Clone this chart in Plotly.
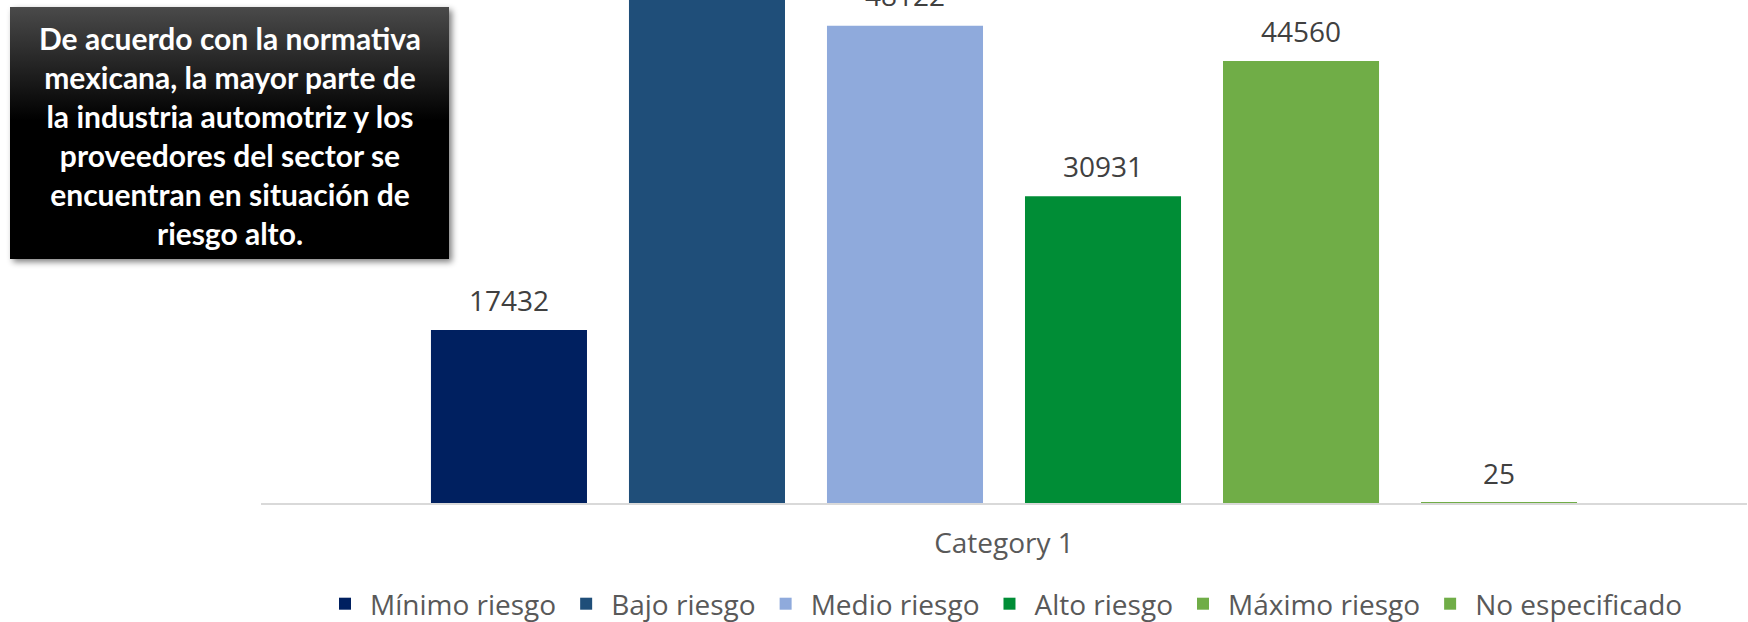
import base64
import plotly.graph_objects as go

# ---- data ----
categories = ["Category 1"]
series_names = ["Mínimo riesgo", "Bajo riesgo", "Medio riesgo", "Alto riesgo", "Máximo riesgo", "No especificado"]
series_values = [17432, 56000, 48122, 30931, 44560, 25]
series_colors = ["#002060", "#1F4E79", "#8FAADC", "#008D36", "#70AD47", "#70AD47"]
note_lines = [
    "De acuerdo con la normativa",
    "mexicana, la mayor parte de",
    "la industria automotriz y los",
    "proveedores del sector se",
    "encuentran en situación de",
    "riesgo alto.",
]

W, H = 1748, 622
ML, MR, MT, MB = 261, 1, 0, 119
plot_w = W - ML - MR
plot_h = H - MT - MB
y_max = 50706
BARGAP = 0.2005

FONT = "Open Sans"

fig = go.Figure()
for name, val, col in zip(series_names, series_values, series_colors):
    fig.add_trace(go.Bar(
        x=categories, y=[val], name=name,
        marker=dict(color=col, line=dict(width=0)),
        cliponaxis=False, hoverinfo="skip",
    ))

# data labels: text-only scatter, grouped like the bars
for name, val in zip(series_names, series_values):
    fig.add_trace(go.Scatter(
        x=categories, y=[val], mode="markers+text",
        text=[str(val)], textposition="top center",
        textfont=dict(family=FONT, size=28, color="#404040"),
        marker=dict(size=18, opacity=0),
        showlegend=False, cliponaxis=False, hoverinfo="skip",
    ))

# decorative note box (gradient + shadow) as an svg image
svg = (
    "<svg xmlns='http://www.w3.org/2000/svg' width='460' height='270' viewBox='0 0 460 270'>"
    "<defs><linearGradient id='g' x1='0' y1='0' x2='0' y2='1'>"
    "<stop offset='0' stop-color='#4a4a4a'/><stop offset='0.45' stop-color='#000000'/>"
    "<stop offset='1' stop-color='#000000'/></linearGradient>"
    "<filter id='s' x='-10%' y='-10%' width='130%' height='130%'>"
    "<feGaussianBlur stdDeviation='3'/></filter></defs>"
    "<rect x='13' y='10' width='439' height='252' fill='#000' opacity='0.5' filter='url(#s)'/>"
    "<rect x='10' y='7' width='439' height='252' fill='url(#g)'/>"
    "</svg>"
)
src = "data:image/svg+xml;base64," + base64.b64encode(svg.encode()).decode()

fig.add_layout_image(dict(
    source=src, xref="paper", yref="paper",
    x=-ML / plot_w, y=1, sizex=460 / plot_w, sizey=270 / plot_h,
    xanchor="left", yanchor="top", sizing="stretch", layer="above",
))

fig.add_annotation(
    xref="paper", yref="paper",
    x=(229.5 - ML) / plot_w, y=1 - 135 / plot_h,
    xanchor="center", yanchor="middle",
    text="<br>".join(note_lines), showarrow=False, align="center",
    font=dict(family="Lato", size=30, color="#FFFFFF", weight="bold"),
)

fig.update_layout(
    width=W, height=H,
    margin=dict(l=ML, r=MR, t=MT, b=MB, pad=0),
    paper_bgcolor="#FFFFFF", plot_bgcolor="#FFFFFF",
    barmode="group", bargap=BARGAP, bargroupgap=0.212,
    scattermode="group", scattergap=BARGAP,
    showlegend=True,
    legend=dict(
        orientation="h", xref="paper", x=0.5, xanchor="center",
        yref="container", y=(H - 604) / H, yanchor="middle",
        font=dict(family=FONT, size=28, color="#595959"),
        bgcolor="rgba(0,0,0,0)", itemwidth=40,
    ),
    xaxis=dict(
        showline=True, linecolor="#D9D9D9", linewidth=2,
        showgrid=False, zeroline=False, ticks="",
        tickfont=dict(family=FONT, size=28, color="#595959"),
        ticklabelstandoff=14,
    ),
    yaxis=dict(
        range=[0, y_max], visible=False, showgrid=False, zeroline=False,
    ),
    font=dict(family=FONT),
)

fig.write_html(
    "out.html",
    config={"displayModeBar": False},
    post_script="document.body.style.margin='0';",
)
